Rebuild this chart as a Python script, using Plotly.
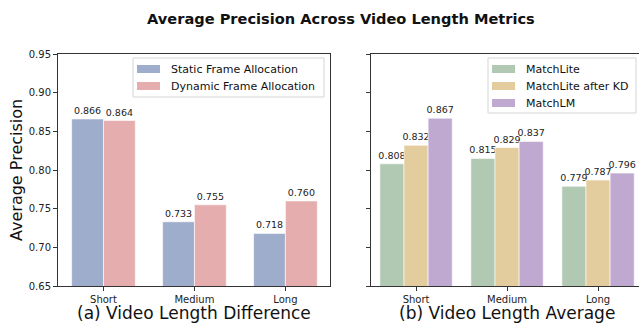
import plotly.graph_objects as go

# ---- data ----
categories = ["Short", "Medium", "Long"]

static_alloc = [0.866, 0.733, 0.718]
dynamic_alloc = [0.864, 0.755, 0.760]

matchlite = [0.808, 0.815, 0.779]
matchlite_kd = [0.832, 0.829, 0.787]
matchlm = [0.867, 0.837, 0.796]

left_names = ["Static Frame Allocation", "Dynamic Frame Allocation"]
right_names = ["MatchLite", "MatchLite after KD", "MatchLM"]

left_colors = ["#9eadcb", "#e5adad"]
right_colors = ["#b1c8b3", "#e3cd9e", "#c0a9d0"]

y_ticks = [0.65, 0.70, 0.75, 0.80, 0.85, 0.90, 0.95]

W, H = 639, 324
FONT = "DejaVu Sans"


def px(x):
    return x / W


def py(y):
    return 1 - y / H


fig = go.Figure()

for i, (vals, name, col) in enumerate(zip([static_alloc, dynamic_alloc], left_names, left_colors)):
    fig.add_trace(go.Bar(
        x=categories, y=vals, name=name, xaxis="x", yaxis="y",
        width=0.35, offset=-0.35 + i * 0.35,
        marker=dict(color=col, line=dict(color="white", width=0.6)),
        texttemplate="%{y:.3f}", textposition="outside", constraintext="none",
        textfont=dict(size=9.5, color="#222", family=FONT),
        cliponaxis=False, showlegend=False,
    ))

for i, (vals, name, col) in enumerate(zip([matchlite, matchlite_kd, matchlm], right_names, right_colors)):
    fig.add_trace(go.Bar(
        x=categories, y=vals, name=name, xaxis="x2", yaxis="y2",
        width=0.265, offset=-0.3975 + i * 0.265,
        marker=dict(color=col, line=dict(color="white", width=0.6)),
        texttemplate="%{y:.3f}", textposition="outside", constraintext="none",
        textfont=dict(size=9.5, color="#222", family=FONT),
        cliponaxis=False, showlegend=False,
    ))

axis_common = dict(
    showline=True, linecolor="#333", linewidth=1,
    ticks="outside", ticklen=4, tickwidth=1, tickcolor="#333",
    tickfont=dict(size=10, color="#222", family=FONT),
    showgrid=False, zeroline=False, automargin=False,
)

fig.update_layout(
    width=W, height=H, autosize=False,
    margin=dict(l=0, r=0, t=0, b=0, pad=0, autoexpand=False),
    paper_bgcolor="white", plot_bgcolor="white",
    font=dict(family=FONT, color="#111"),
    barmode="overlay",
    xaxis=dict(domain=[px(58), px(330)], range=[-0.5, 2.49], type="category",
               mirror=True, anchor="y", **axis_common),
    yaxis=dict(domain=[py(286), py(54)], range=[0.65, 0.95], tickvals=y_ticks,
               tickformat=".2f", mirror=True, anchor="x", **axis_common),
    xaxis2=dict(domain=[px(371), 1.0], range=[-0.495, 2.45], type="category",
                mirror=True, anchor="y2", **axis_common),
    yaxis2=dict(domain=[py(286), py(54)], range=[0.65, 0.95], tickvals=y_ticks,
                showticklabels=False, mirror=False, anchor="x2", **axis_common),
    showlegend=False,
)

annotations = [
    dict(text="<b>Average Precision Across Video Length Metrics</b>",
         x=px(341), y=py(18), xref="paper", yref="paper", showarrow=False,
         font=dict(size=14.6, color="#111", family=FONT), xanchor="center", yanchor="middle"),
    dict(text="(a) Video Length Difference", x=px(194), y=py(313), xref="paper", yref="paper",
         showarrow=False, font=dict(size=17, color="#111", family=FONT),
         xanchor="center", yanchor="middle"),
    dict(text="(b) Video Length Average", x=px(507), y=py(313), xref="paper", yref="paper",
         showarrow=False, font=dict(size=17, color="#111", family=FONT),
         xanchor="center", yanchor="middle"),
    dict(text="Average Precision", x=px(16), y=py(170), xref="paper", yref="paper",
         showarrow=False, textangle=-90, font=dict(size=16, color="#111", family=FONT),
         xanchor="center", yanchor="middle"),
]

shapes = []


def add_legend(box, names, colors, rows_y, patch_x0, text_x):
    x0, y0, x1, y1 = box
    shapes.append(dict(type="rect", xref="paper", yref="paper",
                       x0=px(x0), x1=px(x1), y0=py(y1), y1=py(y0),
                       line=dict(color="#d5d5d5", width=1), fillcolor="rgba(255,255,255,0.85)"))
    for name, col, ry in zip(names, colors, rows_y):
        shapes.append(dict(type="rect", xref="paper", yref="paper",
                           x0=px(patch_x0), x1=px(patch_x0 + 23),
                           y0=py(ry + 4), y1=py(ry - 4),
                           line=dict(width=0), fillcolor=col))
        annotations.append(dict(text=name, x=px(text_x), y=py(ry), xref="paper", yref="paper",
                                showarrow=False, xanchor="left", yanchor="middle",
                                font=dict(size=11, color="#111", family=FONT)))


add_legend((133, 58, 324, 97), left_names, left_colors, [69, 86], 137, 169)
add_legend((488, 58, 636, 113), right_names, right_colors, [69, 86, 103], 492, 524)

fig.update_layout(annotations=annotations, shapes=shapes)

fig.write_html("out.html")
